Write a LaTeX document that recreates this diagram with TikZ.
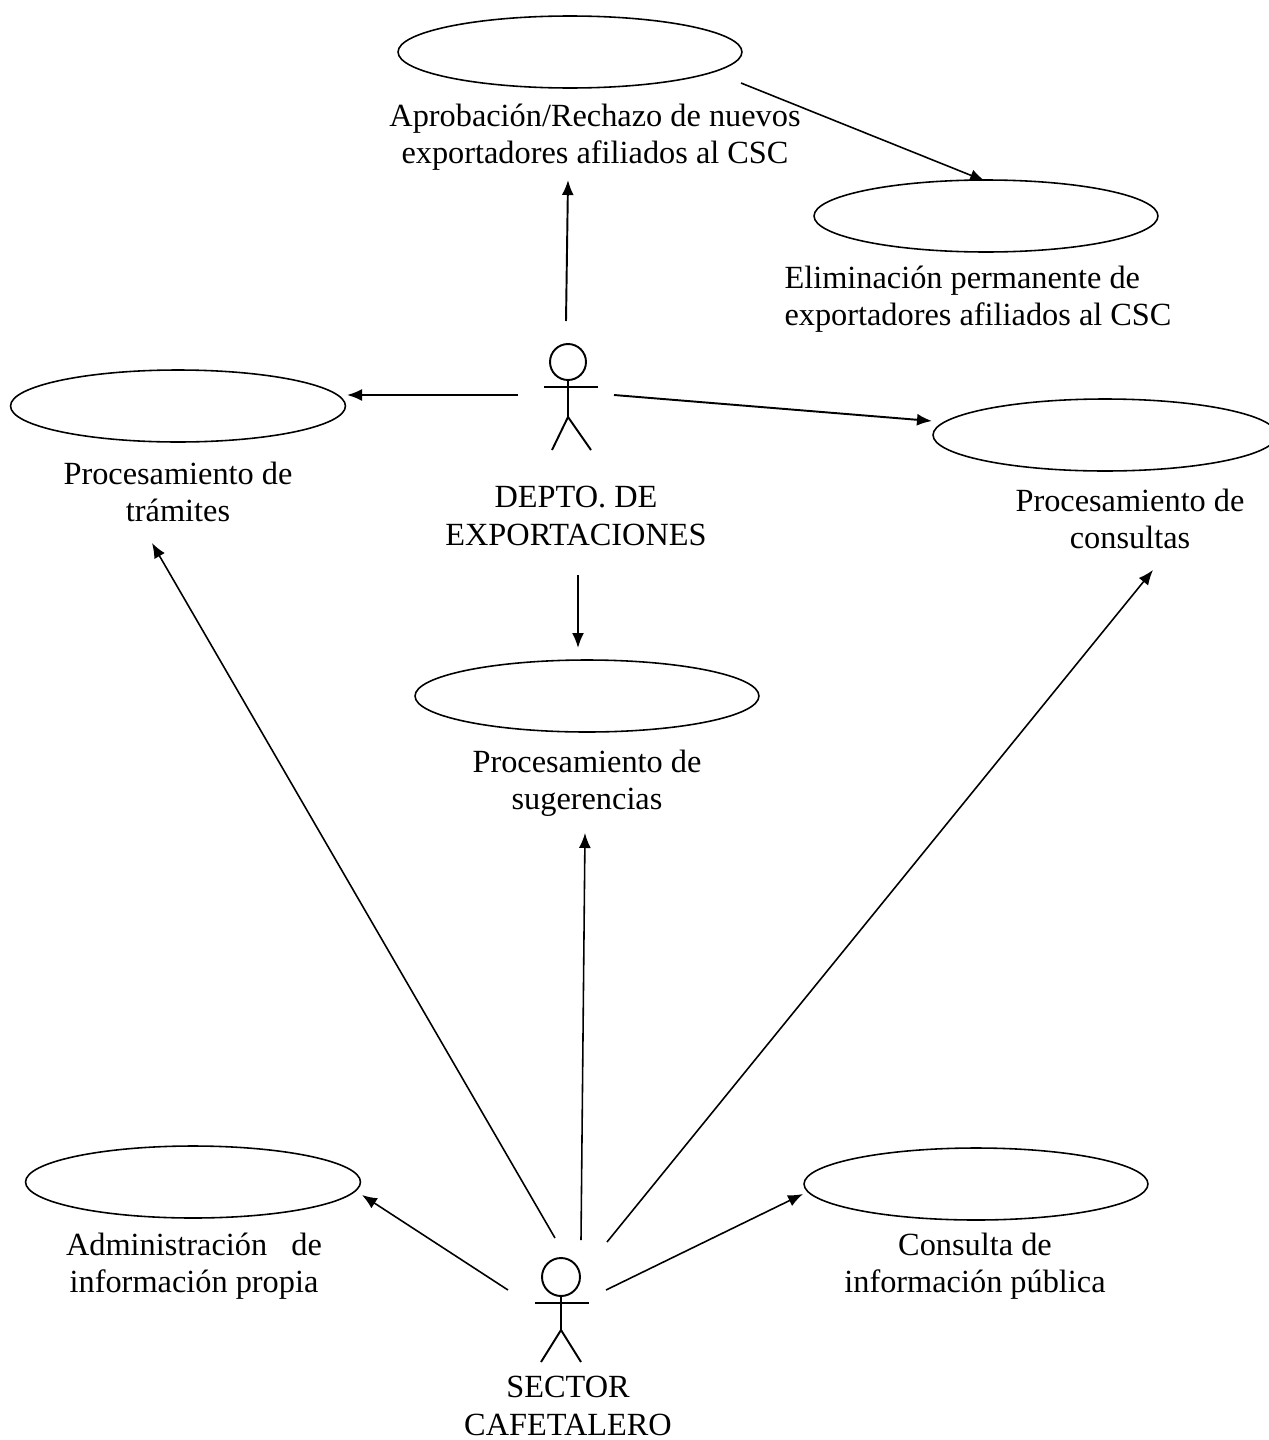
\documentclass[tikz,border=0pt]{standalone}
\usepackage{fontspec}
\setmainfont{Liberation Serif}
\usetikzlibrary{arrows.meta}
\usetikzlibrary{shapes.geometric}

\begin{document}
\begin{tikzpicture}[x=0.02cm, y=-0.02cm, thick]
    \tikzstyle{usecase}=[draw,ellipse,line width=0.9pt,inner sep=0pt,minimum width=6.88cm,minimum height=1.44cm]
    \tikzstyle{narrowcase}=[usecase,minimum width=6.7cm]
    \tikzstyle{caption}=[align=center,inner sep=0pt,font=\fontsize{18.4}{21.3}\selectfont]
    \tikzstyle{link}=[-{Latex[length=0.3cm,width=0.24cm]},line width=1.1pt]
    \tikzstyle{thin link}=[-{Latex[length=0.3cm,width=0.24cm]},line width=0.9pt]
    \tikzstyle{stick}=[line width=1.1pt]
    \useasboundingbox (0,0) rectangle (1268,1440);
    % Place use cases
    \foreach \place/\name in {{(570,52)/aprobacion},{(986,216)/eliminacion},{(1105,435)/consultas},{(587,696)/sugerencias},{(976,1184)/publica}}
        \node[usecase] (\name) at \place {};
    \foreach \place/\name in {{(178,406)/tramites},{(193,1182)/administracion}}
        \node[narrowcase] (\name) at \place {};
    % Captions
    \node[caption] (aprobaciontxt) at (595,137) {Aprobación/Rechazo de nuevos\\exportadores afiliados al CSC};
    \node[caption,align=left] (eliminaciontxt) at (978,299) {Eliminación permanente de\\exportadores afiliados al CSC};
    \node[caption] (tramitestxt) at (178,492) {Procesamiento de\\trámites};
    \node[caption] (deptotxt) at (576,516) {DEPTO. DE\\EXPORTACIONES};
    \node[caption] (consultastxt) at (1130,519) {Procesamiento de\\consultas};
    \node[caption] (sugerenciastxt) at (587,783) {Procesamiento de\\sugerencias};
    \node[caption] (administraciontxt) at (194,1266) {Administración~~ de\\información propia};
    \node[caption] (publicatxt) at (975,1266) {Consulta de\\información pública};
    \node[caption] (sectortxt) at (568,1406) {SECTOR\\CAFETALERO};
    % Actors
    \node[draw,circle,stick,inner sep=0pt,minimum width=0.72cm] (depto) at (568,362) {};
    \draw[stick] (depto.south) -- (568,417) -- (552,450);
    \draw[stick] (568,417) -- (591,450);
    \draw[stick] (544,387) -- (598,387);
    \node[draw,circle,stick,inner sep=0pt,minimum width=0.76cm] (sector) at (561,1277) {};
    \draw[stick] (sector.south) -- (561,1330) -- (541,1362);
    \draw[stick] (561,1330) -- (581,1362);
    \draw[stick] (535,1303) -- (589,1303);
    % Free ends of the arrows
    \foreach \place/\name in {{(566,321)/d1},{(568,180)/d1e},{(518,395)/d2},{(347,395)/d2e},{(614,395)/d3},{(932,421)/d3e},{(578,575)/d4},{(578,648)/d4e},{(741,83)/a1},{(985,181)/a1e}}
        \node[coordinate] (\name) at \place {};
    \foreach \place/\name in {{(555,1238)/s1},{(152,543)/s1e},{(581,1240)/s2},{(585,833)/s2e},{(607,1242)/s3},{(1153,570)/s3e},{(508,1290)/s4},{(362,1195)/s4e},{(606,1290)/s5},{(803,1194)/s5e}}
        \node[coordinate] (\name) at \place {};
    \foreach \speer/\peer in {d1/d1e,d2/d2e,d3/d3e,d4/d4e}
        \draw[link] (\speer) -- (\peer);
    \foreach \speer/\peer in {a1/a1e,s1/s1e,s2/s2e,s3/s3e,s4/s4e,s5/s5e}
        \draw[thin link] (\speer) -- (\peer);
\end{tikzpicture}
\end{document}
